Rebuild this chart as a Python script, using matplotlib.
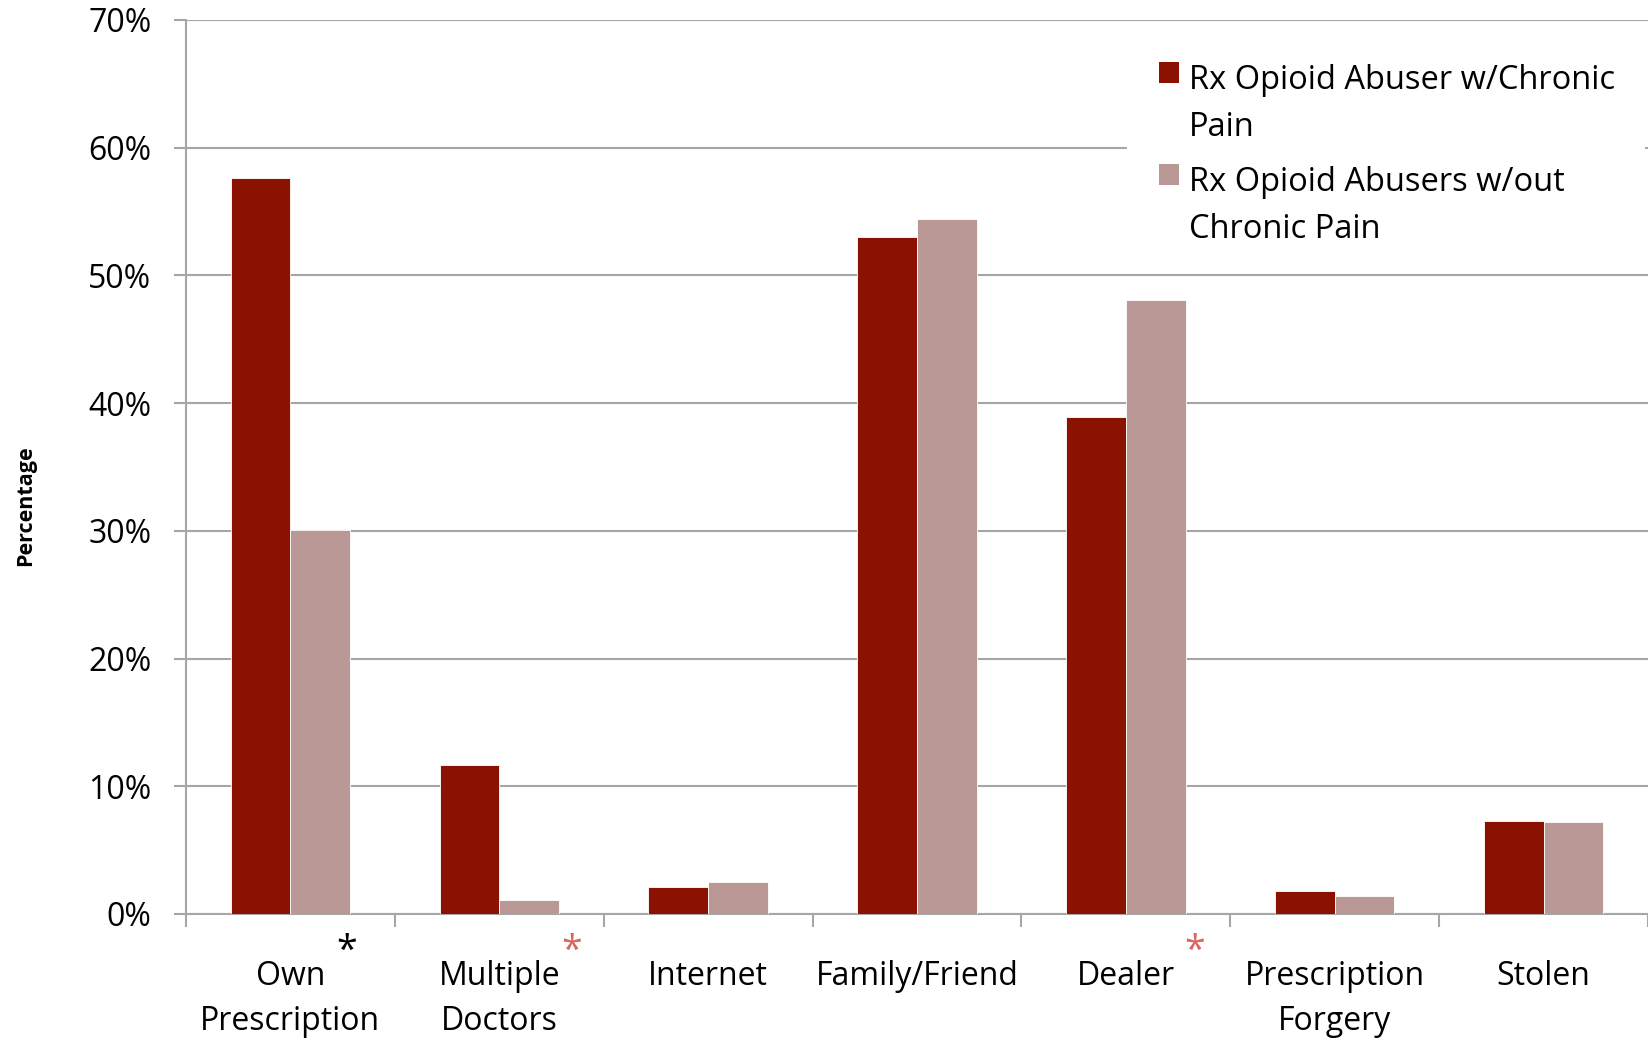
import matplotlib.pyplot as plt
import numpy as np
from matplotlib.patches import Rectangle
from matplotlib.transforms import blended_transform_factory

# source categories and percentages
categories = ['Own\nPrescription', 'Multiple\nDoctors', 'Internet', 'Family/Friend',
              'Dealer', 'Prescription\nForgery', 'Stolen']
with_pain = [57.6, 11.7, 2.1, 53.0, 38.9, 1.8, 7.3]
without_pain = [30.1, 1.1, 2.5, 54.4, 48.1, 1.4, 7.2]
series_names = ['Rx Opioid Abuser w/Chronic\nPain', 'Rx Opioid Abusers w/out\nChronic Pain']
# significance markers: (category index, colour)
stars = [(0, 'black'), (1, '#D9675F'), (4, '#D9675F')]

DARK = '#8B1100'
LIGHT = '#BA9896'
GRID = '#A6A6A6'
W, H = 1648, 1044

plt.rcParams['font.family'] = ['Open Sans', 'DejaVu Sans']

fig = plt.figure(figsize=(W / 100, H / 100), dpi=100)
ax = fig.add_axes([186 / W, 1 - 914 / H, 1 - 186 / W, (914 - 20) / H])

x = np.arange(len(categories))
w = 0.286
ax.bar(x - w / 2, with_pain, w, color=DARK, edgecolor='white', linewidth=0.6, zorder=3)
ax.bar(x + w / 2, without_pain, w, color=LIGHT, edgecolor='white', linewidth=0.6, zorder=3)

ax.set_xlim(-0.5, 6.462)
ax.set_ylim(0, 70)
ax.set_yticks(np.arange(0, 71, 10))
ax.set_yticklabels([f'{v}%' for v in range(0, 71, 10)], fontsize=23)
ax.yaxis.grid(True, color=GRID, linewidth=1.5, zorder=0)
ax.set_axisbelow(True)

ax.set_xticks(x)
ax.set_xticklabels(categories, fontsize=23)
ax.set_xticks(np.arange(-0.5, 7, 1), minor=True)
ax.tick_params(axis='x', which='major', length=0, pad=33)
ax.tick_params(axis='x', which='minor', length=9, width=1.5, color=GRID)
ax.tick_params(axis='y', length=9, width=1.5, color=GRID, pad=16)
for t in ax.get_xticklabels():
    t.set_linespacing(1.5)

for side in ['top', 'right']:
    ax.spines[side].set_visible(False)
for side in ['left', 'bottom']:
    ax.spines[side].set_color(GRID)
    ax.spines[side].set_linewidth(1.5)

fig.text(26 / W, 1 - 506 / H, 'Percentage', fontsize=15.5, fontweight='bold',
         rotation=90, ha='center', va='center')

# asterisks below the axis
trans = blended_transform_factory(ax.transData, ax.transAxes)
offsets = {0: 0.27, 1: 0.345, 4: 0.33}
for i, col in stars:
    ax.text(i + offsets[i], -0.042, '*', color=col, fontsize=27,
            ha='center', va='center', transform=trans)

# legend drawn by hand: square aligned with first line of a wrapped label
fig.patches.append(Rectangle((1127 / W, 1 - 250 / H), (1645 - 1127) / W, 210 / H,
                             transform=fig.transFigure, facecolor='white',
                             edgecolor='none', zorder=4))
for k, (name, col) in enumerate(zip(series_names, [DARK, LIGHT])):
    top = 62 + k * 102
    fig.patches.append(Rectangle((1159 / W, 1 - (top + 21) / H), 20 / W, 21 / H,
                                 transform=fig.transFigure, facecolor=col,
                                 edgecolor='none', zorder=5))
    for j, line in enumerate(name.split('\n')):
        base = top + 27 + j * 47
        fig.text(1189 / W, 1 - base / H, line, fontsize=23.5, ha='left',
                 va='baseline', zorder=6)

fig.savefig('out.png', dpi=100)
